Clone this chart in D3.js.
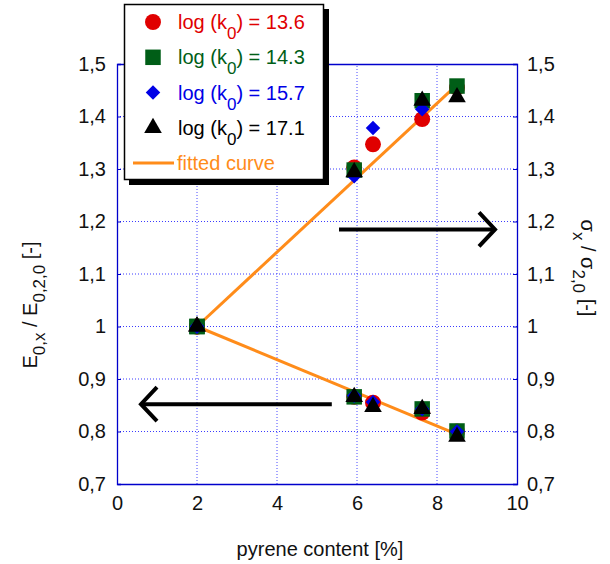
<!DOCTYPE html>
<html>
<head>
<meta charset="utf-8">
<script src="https://cdn.jsdelivr.net/npm/d3@7"></script>
<style>
  body { margin: 0; background: #fff; }
  svg { font-family: "Liberation Sans", Arial, sans-serif; }
</style>
</head>
<body>
<script>
// pyrene content [%]
const pyrene = [2, 5.93, 6.4, 7.63, 8.5];

// sigma_x / sigma_2,0 (upper branch, right axis)
const sigma136 = [1, 1.303, 1.347, 1.395, 1.455];
const sigma143 = [1, 1.298, null, 1.43, 1.458];
const sigma157 = [1, 1.286, 1.378, 1.414, null];
const sigma171 = [1, 1.294, null, 1.43, 1.437];

// E_0,x / E_0,2,0 (lower branch, left axis)
const e136 = [1, 0.866, 0.855, 0.836, 0.80];
const e143 = [1, 0.866, null, 0.843, 0.801];
const e157 = [1, 0.868, 0.856, 0.843, 0.80];
const e171 = [1, 0.866, 0.847, 0.843, 0.79];

// fitted curves: endpoints
const fitSigmaX = [2, 8.45];
const fitSigmaY = [1, 1.457];
const fitEX = [2, 8.4];
const fitEY = [1, 0.798];

const seriesNames = ["13.6", "14.3", "15.7", "17.1"];
const yTicks = [0.7, 0.8, 0.9, 1, 1.1, 1.2, 1.3, 1.4, 1.5];
const xTicks = [0, 2, 4, 6, 8, 10];

const width = 610, height = 564;
const margin = {left: 117, right: 93, top: 64, bottom: 80};
const fs = 20;

const svg = d3.select("body").append("svg")
  .attr("width", width).attr("height", height);

const x = d3.scaleLinear().domain([0, 10]).range([margin.left, width - margin.right]);
const y = d3.scaleLinear().domain([0.7, 1.5]).range([height - margin.bottom, margin.top]);

const colors = ["#e00000", "#005e17", "#0000e6", "#000000"];
const shapes = [d3.symbolCircle, d3.symbolSquare, d3.symbolSquare, d3.symbolTriangle];
const sizes = [200, 240, 105, 135];
const rot = [0, 0, 45, 0];

// grid
const grid = svg.append("g");
grid.selectAll("line.v").data(xTicks.slice(1, -1)).join("line")
  .attr("x1", d => x(d)).attr("x2", d => x(d))
  .attr("y1", y(0.7)).attr("y2", y(1.5))
  .attr("stroke", "#4a4aff").attr("stroke-dasharray", "1,2");
grid.selectAll("line.h").data(yTicks.slice(1, -1)).join("line")
  .attr("y1", d => y(d)).attr("y2", d => y(d))
  .attr("x1", x(0)).attr("x2", x(10))
  .attr("stroke", "#3b3bff").attr("stroke-dasharray", "1,2");

// axes
const fmt = d => d3.format(".1f")(d).replace(".", ",").replace(",0", "");
const axL = svg.append("g").attr("transform", `translate(${x(0)},0)`)
  .call(d3.axisLeft(y).tickValues(yTicks).tickSize(-4).tickPadding(11).tickFormat(fmt));
const axR = svg.append("g").attr("transform", `translate(${x(10)},0)`)
  .call(d3.axisRight(y).tickValues(yTicks).tickSize(-4).tickPadding(10).tickFormat(fmt));
const axB = svg.append("g").attr("transform", `translate(0,${y(0.7)})`)
  .call(d3.axisBottom(x).tickValues(xTicks).tickSize(0).tickPadding(9).tickFormat(d3.format("d")));
const axT = svg.append("g").attr("transform", `translate(0,${y(1.5)})`)
  .call(d3.axisTop(x).tickValues(xTicks).tickSize(0).tickFormat(""));
[axL, axR, axB, axT].forEach(a => {
  a.select(".domain").attr("stroke", "#0000cc").attr("stroke-width", 1.3);
  a.selectAll(".tick line").attr("stroke", "#0000cc");
  a.selectAll("text").attr("font-size", fs).attr("fill", "#111")
    .attr("font-family", "Liberation Sans, Arial, sans-serif");
});
axB.selectAll("text").attr("dy", "0.85em");

// fitted curves
const line = d3.line().x(d => x(d[0])).y(d => y(d[1]));
svg.append("path").datum(d3.zip(fitSigmaX, fitSigmaY)).attr("d", line)
  .attr("stroke", "#ff8c1a").attr("stroke-width", 3).attr("fill", "none");
svg.append("path").datum(d3.zip(fitEX, fitEY)).attr("d", line)
  .attr("stroke", "#ff8c1a").attr("stroke-width", 3).attr("fill", "none");

// points
const upper = [sigma136, sigma143, sigma157, sigma171];
const lower = [e136, e143, e157, e171];
[0, 1, 2, 3].forEach(i => {
  const pts = [];
  pyrene.forEach((p, j) => {
    if (upper[i][j] != null) pts.push([p, upper[i][j]]);
    if (lower[i][j] != null) pts.push([p, lower[i][j]]);
  });
  svg.append("g").selectAll("path").data(pts).join("path")
    .attr("d", d3.symbol(shapes[i], sizes[i]))
    .attr("transform", d => `translate(${x(d[0])},${y(d[1])}) rotate(${rot[i]})`)
    .attr("fill", colors[i]);
});

// arrows
function arrow(x1, x2, yv) {
  const dir = Math.sign(x2 - x1);
  const g = svg.append("g").attr("stroke", "#000").attr("stroke-width", 4)
    .attr("fill", "none").attr("stroke-linecap", "butt");
  g.append("line").attr("x1", x(x1)).attr("x2", x(x2) - dir * 2).attr("y1", y(yv)).attr("y2", y(yv));
  g.append("path").attr("d", `M${x(x2) - dir * 16},${y(yv) - 17} L${x(x2)},${y(yv)} L${x(x2) - dir * 16},${y(yv) + 17}`);
}
arrow(5.55, 9.45, 1.185);
arrow(5.37, 0.6, 0.852);

// legend
const lg = svg.append("g");
lg.append("rect").attr("x", 129).attr("y", 9).attr("width", 200).attr("height", 176).attr("fill", "#000");
lg.append("rect").attr("x", 124.5).attr("y", 4.5).attr("width", 199).attr("height", 175)
  .attr("fill", "#fff").attr("stroke", "#000").attr("stroke-width", 1.5);
seriesNames.forEach((s, i) => {
  const yy = 22 + i * 35.3;
  lg.append("path").attr("d", d3.symbol(shapes[i], sizes[i]))
    .attr("transform", `translate(153,${yy}) rotate(${rot[i]})`).attr("fill", colors[i]);
  const t = lg.append("text").attr("x", 178).attr("y", yy + 7).attr("font-size", fs).attr("fill", colors[i]);
  t.append("tspan").text("log (k");
  t.append("tspan").attr("dy", 10).attr("font-size", 17).text("0");
  t.append("tspan").attr("dy", -10).text(") = " + s);
});
lg.append("line").attr("x1", 133).attr("x2", 174).attr("y1", 163).attr("y2", 163)
  .attr("stroke", "#ff8c1a").attr("stroke-width", 3);
lg.append("text").attr("x", 177).attr("y", 170).attr("font-size", fs).attr("fill", "#ff8c1a").text("fitted curve");

// axis titles
svg.append("text").attr("x", (x(0) + x(10)) / 2 + 3).attr("y", 556).attr("text-anchor", "middle")
  .attr("font-size", fs).attr("fill", "#111").text("pyrene content [%]");

const tl = svg.append("text").attr("transform", "translate(37,305) rotate(-90)")
  .attr("text-anchor", "middle").attr("font-size", fs).attr("fill", "#111");
tl.append("tspan").text("E");
tl.append("tspan").attr("dy", 8).attr("font-size", 17).text("0,x");
tl.append("tspan").attr("dy", -8).text(" / E");
tl.append("tspan").attr("dy", 8).attr("font-size", 17).text("0,2,0");
tl.append("tspan").attr("dy", -8).text(" [-]");

const tr = svg.append("text").attr("transform", "translate(581,268) rotate(90)")
  .attr("text-anchor", "middle").attr("font-size", fs).attr("fill", "#111");
tr.append("tspan").text("σ");
tr.append("tspan").attr("dy", 8).attr("font-size", 17).text("x");
tr.append("tspan").attr("dy", -8).text(" / σ");
tr.append("tspan").attr("dy", 8).attr("font-size", 17).text("2,0");
tr.append("tspan").attr("dy", -8).text(" [-]");
</script>
</body>
</html>
